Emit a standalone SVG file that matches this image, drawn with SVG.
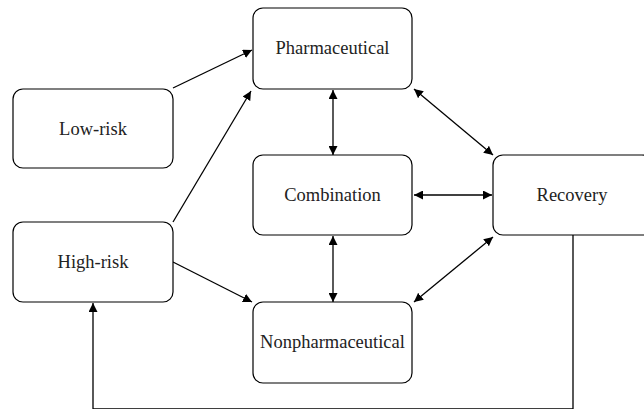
<svg xmlns="http://www.w3.org/2000/svg" width="644" height="409" viewBox="0 0 644 409">
<style>
.box{fill:#fff;stroke:#000;stroke-width:1.2}
.lbl{font-family:'Liberation Serif','Tinos','Times New Roman','DejaVu Serif',serif;font-size:18.5px;fill:#222;text-anchor:middle}
.edge{fill:none;stroke:#000;stroke-width:1.3}
</style>
<defs>
<marker id="ah" viewBox="0 0 10 10" refX="10" refY="5" markerWidth="9" markerHeight="9" markerUnits="userSpaceOnUse" orient="auto-start-reverse">
<path d="M0,0 L10,5 L0,10 Z" fill="#000"/>
</marker>
</defs>
<rect width="644" height="409" fill="#fff"/>
<g id="connectors">
<line class="edge" x1="173" y1="88" x2="252" y2="50" marker-end="url(#ah)"/>
<line class="edge" x1="173" y1="222" x2="251" y2="91" marker-end="url(#ah)"/>
<line class="edge" x1="173" y1="262" x2="252" y2="302" marker-end="url(#ah)"/>
<line class="edge" x1="333" y1="90" x2="333" y2="155" marker-start="url(#ah)" marker-end="url(#ah)"/>
<line class="edge" x1="333" y1="236" x2="333" y2="302" marker-start="url(#ah)" marker-end="url(#ah)"/>
<line class="edge" x1="414" y1="195" x2="492" y2="195" marker-start="url(#ah)" marker-end="url(#ah)"/>
<line class="edge" x1="414" y1="89" x2="493" y2="155" marker-start="url(#ah)" marker-end="url(#ah)"/>
<line class="edge" x1="493" y1="237" x2="414" y2="302" marker-start="url(#ah)" marker-end="url(#ah)"/>
<polyline class="edge" points="573,235 573,409 93,409 93,303" marker-end="url(#ah)"/>
</g>
<g id="lowrisk"><rect class="box" x="13" y="89" width="160" height="79" rx="10"/><text class="lbl" x="93" y="135">Low-risk</text></g>
<g id="highrisk"><rect class="box" x="13" y="222" width="160" height="80" rx="10"/><text class="lbl" x="93" y="268">High-risk</text></g>
<g id="pharmaceutical"><rect class="box" x="253" y="8" width="159" height="81" rx="10"/><text class="lbl" x="332.5" y="54">Pharmaceutical</text></g>
<g id="combination"><rect class="box" x="253" y="155" width="159" height="80" rx="10"/><text class="lbl" x="332.5" y="201">Combination</text></g>
<g id="nonpharmaceutical"><rect class="box" x="253" y="302" width="159" height="81" rx="10"/><text class="lbl" x="332.5" y="348">Nonpharmaceutical</text></g>
<g id="recovery"><rect class="box" x="493" y="155" width="159" height="80" rx="10"/><text class="lbl" x="572" y="201">Recovery</text></g>
</svg>
